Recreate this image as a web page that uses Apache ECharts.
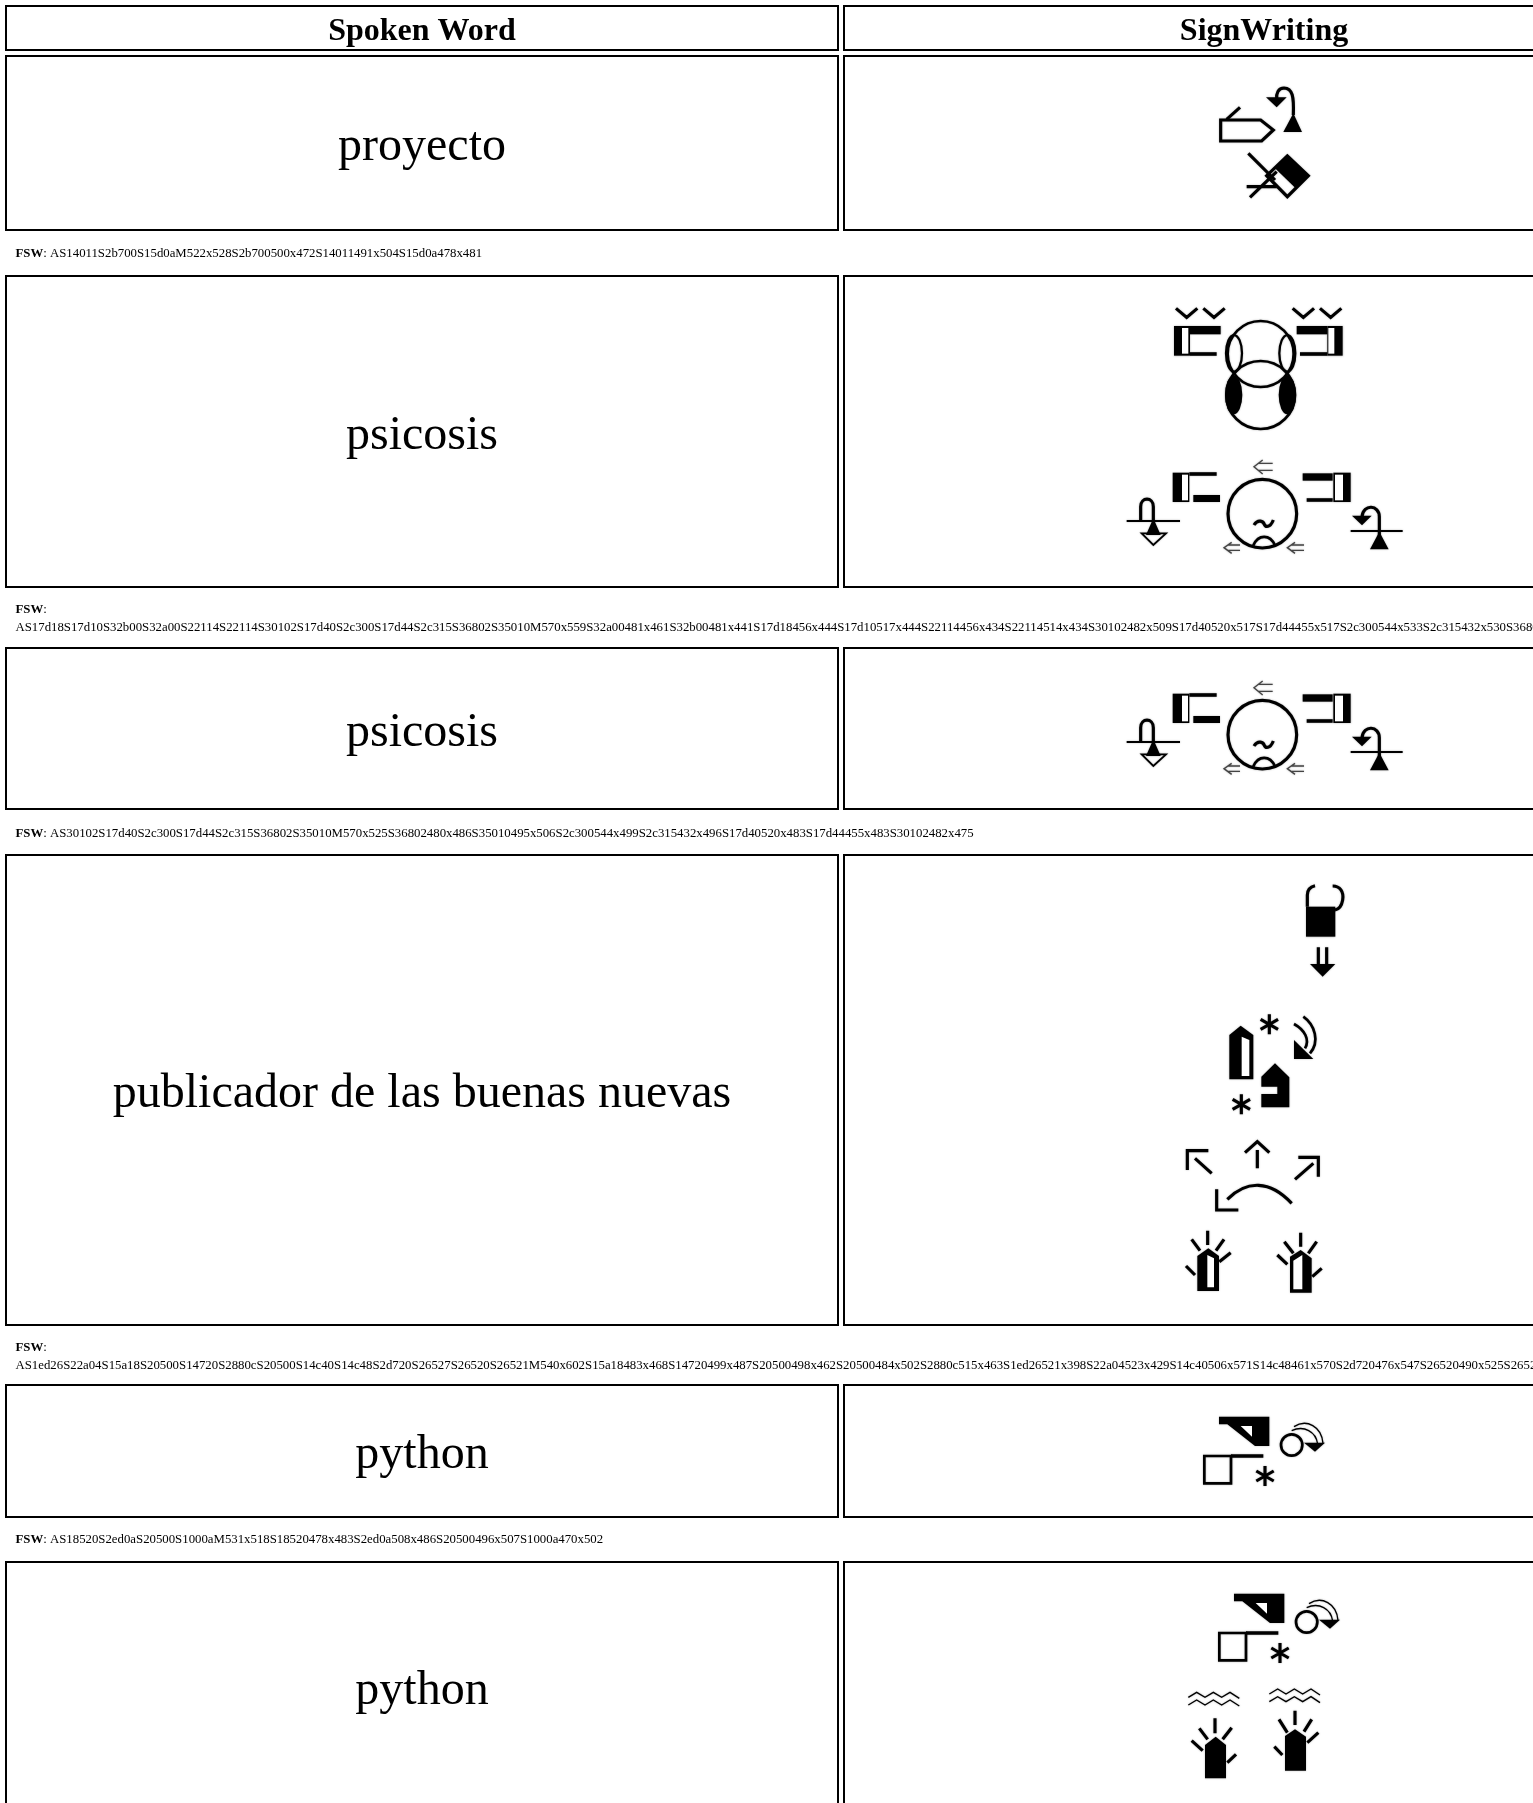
<!DOCTYPE html>
<html>
<head>
<meta charset="utf-8">
<title>SignWriting</title>
<script src="https://cdn.jsdelivr.net/npm/echarts@6/dist/echarts.min.js"></script>
<style>
  html, body { margin: 0; padding: 0; background: #fff; overflow: hidden; }
  #main { width: 1533px; height: 1803px; }
</style>
</head>
<body>
<div id="main"></div>
<script>
// table content
const headers = ["Spoken Word", "SignWriting"];
const spokenWords = ["proyecto", "psicosis", "psicosis", "publicador de las buenas nuevas", "python", "python"];
const fswCodes = [
  "AS14011S2b700S15d0aM522x528S2b700500x472S14011491x504S15d0a478x481",
  "AS17d18S17d10S32b00S32a00S22114S22114S30102S17d40S2c300S17d44S2c315S36802S35010M570x559S32a00481x461S32b00481x441S17d18456x444S17d10517x444S22114456x434S22114514x434S30102482x509S17d40520x517S17d44455x517S2c300544x533S2c315432x530S36802480x520",
  "AS30102S17d40S2c300S17d44S2c315S36802S35010M570x525S36802480x486S35010495x506S2c300544x499S2c315432x496S17d40520x483S17d44455x483S30102482x475",
  "AS1ed26S22a04S15a18S20500S14720S2880cS20500S14c40S14c48S2d720S26527S26520S26521M540x602S15a18483x468S14720499x487S20500498x462S20500484x502S2880c515x463S1ed26521x398S22a04523x429S14c40506x571S14c48461x570S2d720476x547S26520490x525S26521",
  "AS18520S2ed0aS20500S1000aM531x518S18520478x483S2ed0a508x486S20500496x507S1000a470x502"
];

// page layout, in page pixels
const headerTop = 6, headerBottom = 50;
const rowTops = [56, 276, 648, 855, 1385, 1562];
const rowBottoms = [230, 587, 809, 1325, 1517, 1812];
const colLefts = [6, 844];
const colRights = [838, 1684];
const fswTextX = 15.5;
const fswLineY = [[254], [610, 628], [834], [1348, 1366], [1540]];

const ellipse = (cx, cy, rx, ry) =>
  `M${cx - rx} ${cy}a${rx} ${ry} 0 1 0 ${2 * rx} 0a${rx} ${ry} 0 1 0 ${-2 * rx} 0Z`;
const star = (cx, cy, r) => {
  let dx = r * 0.87, dy = r * 0.5;
  return `M${cx} ${cy - r}V${cy + r}M${cx - dx} ${cy - dy}L${cx + dx} ${cy + dy}M${cx + dx} ${cy - dy}L${cx - dx} ${cy + dy}`;
};

// sign glyphs, drawn at 3x like the crops they were traced from. [path, kind, width]
const faceHalf = [
  ["M218 548H268V636H218Z", "f"],
  ["M246 554H264V631H246Z", "w"],
  ["M268 552H350", "s", 8],
  ["M280 615H360V636H280Z", "f"],
  ["M608 550H698V572H608Z", "f"],
  ["M620 630H698", "s", 8],
  ["M700 548H752V636H700Z", "f"],
  ["M705 554H729V631H705Z", "w"],
  [ellipse(487, 671, 103, 103), "s", 7],
  ["M488 510L462 530L488 552M475 520H518M475 541H518", "g", 3],
  ["M395 757L372 773L395 790M385 765H420M385 781H420", "g", 3],
  ["M585 757L562 773L585 790M575 765H612M575 781H612", "g", 3],
  ["M462 705C475 685 490 695 493 703S510 715 520 690", "s", 7],
  ["M460 766C475 732 510 732 525 766", "s", 6],
  ["M80 693H240", "s", 4],
  ["M122 690V650C122 620 160 620 160 650V690", "s", 7],
  ["M138 735H182L160 685Z", "f"],
  ["M125 730H198L160 765Z", "s", 4],
  ["M752 723H908", "s", 4],
  ["M838 740V680C838 645 790 640 786 680", "s", 7],
  ["M756 677H815L786 706Z", "f"],
  ["M810 778H866L838 725Z", "f"]
];
const faceTop = [
  ["M228 55L260 82L292 55M310 55L342 82L374 55M578 55L610 82L642 55M660 55L692 82L724 55", "s", 7],
  ["M222 108H270V197H222Z", "f"],
  ["M246 114H265V191H246Z", "w"],
  ["M270 108H362V133H270Z", "f"],
  ["M270 192H350", "s", 8],
  ["M590 108H682V133H590Z", "f"],
  ["M600 192H682", "s", 8],
  ["M682 108H728V197H682Z", "f"],
  ["M685 114H703V191H685Z", "w"],
  [ellipse(482, 315, 103, 102), "s", 6],
  [ellipse(482, 192, 99, 99), "s", 6],
  [ellipse(402, 190, 24, 55), "s", 5],
  [ellipse(562, 190, 24, 55), "s", 5],
  [ellipse(401, 315, 26, 58), "f"],
  [ellipse(562, 315, 26, 58), "f"]
];
const proyectoSign = [
  ["M272 180H392L430 210L395 243H272Z", "s", 7],
  ["M290 178L330 142", "s", 7],
  ["M460 216H516L490 160Z", "f"],
  ["M490 165C492 110 488 85 462 84C445 84 438 100 440 118", "s", 7],
  ["M408 112H470L440 142Z", "f"],
  ["M472 288L535 347L472 410L410 347Z", "s", 7],
  ["M472 288L535 347L497 385L435 325Z", "f"],
  ["M355 280L435 360M350 380H440M360 412L440 335", "s", 7]
];
const publicadorUpper = [
  ["M468 110H556V200H468Z", "f"],
  ["M472 110V75C472 58 482 50 495 47M548 48C570 48 582 65 578 90C575 108 565 118 555 120", "s", 7],
  ["M505 232V285M530 232V285", "s", 7],
  ["M480 282H556L518 320Z", "f"],
  ["M238 628V495L272 467L310 495V628Z", "f"],
  ["M275 500L298 510V618H275Z", "w"],
  [star(358, 463, 30), "s", 7],
  [star(274, 703, 30), "s", 7],
  ["M432 462C465 480 480 510 465 535M460 440C495 465 510 515 480 550", "s", 6],
  ["M432 567H490L432 510Z", "f"],
  ["M375 580L418 622V712H334V672H382V650H334V620Z", "f"]
];
const publicadorLower = [
  ["M185 130L135 85M112 120V62H175", "s", 7],
  ["M322 115V60M285 68L322 35L358 68", "s", 7],
  ["M435 148L490 100M445 82H505V140", "s", 7],
  ["M232 208C290 150 360 150 425 220", "s", 7],
  ["M200 178V240H265", "s", 7],
  ["M142 483V378L175 355L207 378V483Z", "f"],
  ["M172 472V375L192 385V472Z", "w"],
  ["M173 302V345M125 328L150 362M222 328L198 362M242 368L208 395M108 408L135 435", "s", 7],
  ["M420 488V380L452 360L485 385V488Z", "f"],
  ["M430 478V392L457 375V478Z", "w"],
  ["M452 308V350M403 335L430 370M500 335L475 370M382 375L412 403M515 415L487 440", "s", 7]
];
const pythonUpper = [
  ["M207 140H358V228H315L232 163H207Z", "f"],
  ["M272 168H306V200Z", "w"],
  ["M163 258H243V340H163Z", "s", 6],
  ["M243 258H340", "s", 8],
  [star(345, 318, 30), "s", 7],
  [ellipse(425, 225, 32, 32), "s", 6],
  ["M425 182C462 165 498 185 503 222M432 170C470 145 515 170 519 220", "s", 3],
  ["M462 218H525L495 245Z", "f"]
];
const pythonLower = [
  ["M115 412L140 397L165 412L190 397L215 412L240 397L268 415M115 435L140 420L165 435L190 420L215 435L240 420L268 438", "s", 3],
  ["M358 402L383 387L408 402L433 387L458 402L483 387L510 405M358 425L383 410L408 425L433 410L458 425L483 410L510 428", "s", 3],
  ["M165 655V555L197 530L228 555V655Z", "f"],
  ["M195 475V520M148 505L173 538M245 503L218 538M125 542L158 572M258 583L232 608", "s", 7],
  ["M405 632V528L435 508L468 530V632Z", "f"],
  ["M435 452V495M387 478L412 518M485 478L462 515M505 518L472 548M373 560L397 585", "s", 7]
];

// where each row puts its glyphs: [sketch, page x, page y]
const rowGlyphs = [
  [[proyectoSign, 1130, 60]],
  [[faceTop, 1100, 290], [faceHalf, 1100, 290]],
  [[faceHalf, 1100, 511]],
  [[publicadorUpper, 1150, 870], [publicadorLower, 1150, 1130]],
  [[pythonUpper, 1150, 1370]],
  [[pythonUpper, 1165, 1547], [pythonLower, 1150, 1560]]
];

// the traced glyphs are soft in the reference, so thicken strokes a bit and blur the edge
const glyphChild = (item) => {
  let kind = item[1];
  let style;
  if (kind === "w") style = { fill: "#fff", stroke: null };
  else if (kind === "f") style = { fill: "#000", stroke: null };
  else style = { fill: null, stroke: kind === "g" ? "#444" : "#000", lineWidth: item[2] * 1.35 };
  if (kind !== "w") {
    style.shadowBlur = 2;
    style.shadowColor = "rgba(0,0,0,0.3)";
  }
  return { type: "path", shape: { pathData: item[0] }, style: style };
};

const cellElements = (api, top, bottom, labels, font, textShift) => {
  let els = [];
  for (let c = 0; c < 2; c++) {
    let p0 = api.coord([colLefts[c], top]);
    let p1 = api.coord([colRights[c], bottom]);
    els.push({
      type: "rect",
      shape: { x: p0[0], y: p0[1], width: p1[0] - p0[0], height: p1[1] - p0[1] },
      style: { fill: "#fff", stroke: "#000", lineWidth: 2 }
    });
    if (labels[c]) {
      els.push({
        type: "text",
        x: (p0[0] + p1[0]) / 2,
        y: (p0[1] + p1[1]) / 2 + textShift,
        style: {
          text: labels[c],
          font: font,
          fill: "#000",
          align: "center",
          verticalAlign: "middle"
        }
      });
    }
  }
  return els;
};

const renderHeader = (params, api) => ({
  type: "group",
  children: cellElements(api, headerTop, headerBottom, headers, "bold 32px 'Liberation Serif'", 3.5)
});

const renderRow = (params, api) => {
  let i = api.value(0);
  return {
    type: "group",
    children: cellElements(api, rowTops[i], rowBottoms[i], [spokenWords[i], ""], "48px 'Liberation Serif'", 4.5)
  };
};

const renderSign = (params, api) => {
  let i = api.value(0);
  return {
    type: "group",
    children: rowGlyphs[i].map((g) => {
      let p = api.coord([g[1], g[2]]);
      return {
        type: "group",
        x: p[0],
        y: p[1],
        scaleX: 1 / 3,
        scaleY: 1 / 3,
        children: g[0].map(glyphChild)
      };
    })
  };
};

const renderFsw = (params, api) => {
  let i = api.value(0);
  let lines = fswLineY[i];
  let children = [];
  lines.forEach((y, k) => {
    let p = api.coord([fswTextX, y]);
    let text = "{b|FSW}: " + fswCodes[i];
    if (lines.length > 1) text = k === 0 ? "{b|FSW}:" : fswCodes[i];
    children.push({
      type: "text",
      x: p[0],
      y: p[1],
      style: {
        text: text,
        font: "12.8px 'Liberation Serif'",
        fill: "#000",
        align: "left",
        verticalAlign: "middle",
        rich: { b: { font: "bold 12.8px 'Liberation Serif'", fill: "#000" } }
      }
    });
  });
  return { type: "group", children: children };
};

const rowData = spokenWords.map((w, i) => [i, w]);
const fswData = fswCodes.map((code, i) => [i, code]);

let myChart = echarts.init(document.getElementById("main"), null, { renderer: "canvas" });
let option = {
  backgroundColor: "#fff",
  animation: false,
  grid: { left: 0, right: 0, top: 0, bottom: 0 },
  xAxis: { type: "value", min: 0, max: 1533, show: false },
  yAxis: { type: "value", min: 0, max: 1803, inverse: true, show: false },
  series: [
    { type: "custom", silent: true, clip: true, data: [[0]], renderItem: renderHeader, z: 1 },
    { type: "custom", silent: true, clip: true, data: rowData, renderItem: renderRow, z: 2 },
    { type: "custom", silent: true, clip: true, data: rowData, renderItem: renderSign, z: 3 },
    { type: "custom", silent: true, clip: true, data: fswData, renderItem: renderFsw, z: 4 }
  ]
};
myChart.setOption(option);
window.addEventListener("resize", myChart.resize);
</script>
</body>
</html>
